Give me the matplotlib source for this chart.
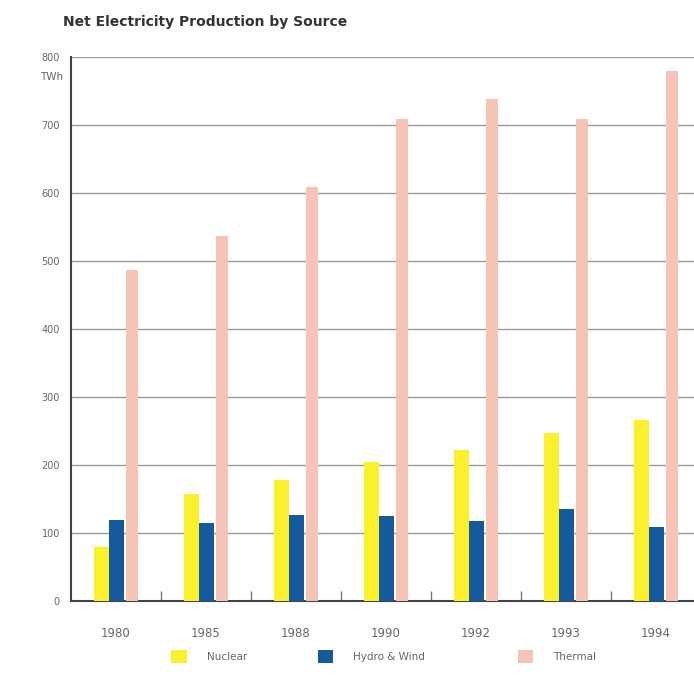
import numpy as np
import matplotlib.pyplot as plt
from matplotlib.patches import Patch

# -------------------------
# Data (TWh)
# -------------------------
years = ["1980", "1985", "1988", "1990", "1992", "1993", "1994"]
nuclear = [80, 158, 178, 204, 222, 247, 266]
hydro_wind = [119, 115, 126, 125, 117, 135, 109]
thermal = [487, 537, 609, 709, 738, 709, 779]

series_names = ["Nuclear", "Hydro & Wind", "Thermal"]
colors = ["#fbf02c", "#145a9c", "#f6c3b7"]

# -------------------------
# Figure
# -------------------------
fig = plt.figure(figsize=(6.94, 6.93), dpi=100)
ax = fig.add_axes([0.1023, 0.1328, 0.8977, 0.7849])

x = np.arange(len(years))
ax.bar(x - 0.16, nuclear, width=0.165, color=colors[0], zorder=3)
ax.bar(x + 0.007, hydro_wind, width=0.17, color=colors[1], zorder=3)
ax.bar(x + 0.18, thermal, width=0.13, color=colors[2], zorder=3)

ax.set_xlim(-0.5, -0.5 + 623 / 90)
ax.set_ylim(0, 800)

# y axis: grid + labels
ax.set_yticks(range(0, 801, 100))
ax.yaxis.grid(True, color="#9a9a9a", linewidth=1.0, zorder=0)
ax.tick_params(axis="y", length=0, pad=8, labelsize=7, labelcolor="#666666")
ax.text(-0.013, 770, "TWh", transform=ax.get_yaxis_transform(),
        ha="right", va="center", fontsize=7.5, color="#666666")

# x axis: year labels centred, small inner ticks between groups
ax.set_xticks(x)
ax.set_xticklabels(years)
ax.set_xticks(x[:-1] + 0.5, minor=True)
ax.tick_params(axis="x", which="major", length=0, pad=19,
               labelsize=8.5, labelcolor="#666666")
ax.tick_params(axis="x", which="minor", direction="in", length=7,
               width=1, color="#777777")

for side in ["top", "right"]:
    ax.spines[side].set_visible(False)
ax.spines["left"].set_color("#444444")
ax.spines["left"].set_linewidth(1.5)
ax.spines["bottom"].set_color("#444444")
ax.spines["bottom"].set_linewidth(1.5)

# title
fig.text(0.091, 0.968, "Net Electricity Production by Source",
         fontsize=10, fontweight="bold", color="#333333", va="center")

# legend: one entry per series, at fixed spots
legend_x = [0.247, 0.458, 0.746]
for name, col, lx in zip(series_names, colors, legend_x):
    fig.legend(handles=[Patch(facecolor=col, edgecolor="none")], labels=[name],
               loc="center left", bbox_to_anchor=(lx, 0.053), frameon=False,
               fontsize=7.5, labelcolor="#666666", handlelength=1.5,
               handleheight=1.5, handletextpad=1.9, borderpad=0,
               borderaxespad=0)

plt.savefig("out.png", dpi=100)
